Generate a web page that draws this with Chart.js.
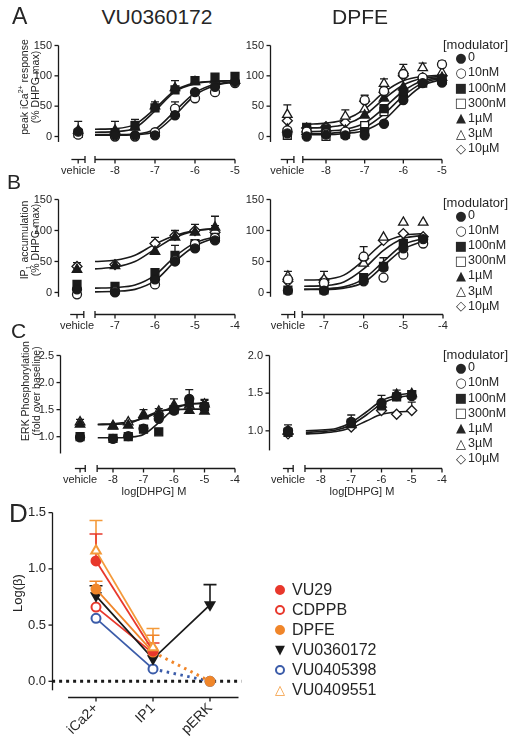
<!DOCTYPE html>
<html>
<head>
<meta charset="utf-8">
<script src="https://cdn.jsdelivr.net/npm/chart.js@4.4.0/dist/chart.umd.min.js"></script>
<style>
  body { margin: 0; background: #fff; }
  #fig { position: relative; width: 517px; height: 741px; overflow: hidden; background: #fff;
         font-family: "Liberation Sans", Arial, Helvetica, sans-serif; color: #262626; }
  #fig canvas { position: absolute; }
  .t { position: absolute; white-space: nowrap; line-height: 1; }
  .rot { transform: translate(-50%, -50%) rotate(-90deg); font-size: 10.5px; }
  .g { position: absolute; width: 14px; text-align: center; font-family: "DejaVu Sans", sans-serif; line-height: 1; }
  sup, sub { font-size: 7px; line-height: 0; }
</style>
</head>
<body>
<div id="fig">
  <canvas id="aL"></canvas><canvas id="aR"></canvas>
  <canvas id="bL"></canvas><canvas id="bR"></canvas>
  <canvas id="cL"></canvas><canvas id="cR"></canvas>
  <canvas id="d"></canvas>
</div>
<script>
// ---------- A: peak iCa2+ response (% DHPG max); first x = vehicle
const aL_dose  = [-8.92, -8, -7.5, -7, -6.5, -6, -5.5, -5];
const aL_0     = [8, 2, 2, 2, 35, 73, 82, 90];
const aL_10nM  = [3, 0, 0, 7, 46, 63, 73, 88];
const aL_100nM = [5, 5, 18, 47, 77, 92, 98, 99];
const aL_1uM   = [10, 10, 15, 50, 80, 90, 93, 92];
const aL_err100nM = [null, null, 28, null, 92, 97, null, 101];
const aL_err1uM   = [25, 25, null, 57, null, null, null, null];
const aL_errCirc  = [null, null, null, null, 57, null, null, null];
const aL_fitDose = [-8.5, -8, -7.5, -7, -6.5, -6, -5.5, -5];
const aL_fit1 = [12, 13, 20, 46, 76, 88, 91, 92];
const aL_fit2 = [7, 8, 14, 42, 74, 87, 91, 92];
const aL_fit3 = [3, 3, 4, 12, 42, 72, 86, 90];
const aL_fit4 = [2, 2, 3, 8, 35, 68, 84, 90];

const aR_dose  = [-9.0, -8.5, -8, -7.5, -7, -6.5, -6, -5.5, -5];
const aR_0     = [5, 0, 3, 2, 2, 21, 60, 88, 89];
const aR_10nM  = [10, 8, 5, 8, 60, 75, 103, 97, 119];
const aR_100nM = [7, 15, 12, 5, 8, 46, 71, 92, 95];
const aR_300nM = [2, 5, 0, 4, 18, 41, 65, 88, 93];
const aR_1uM   = [12, 8, 8, 10, 35, 63, 81, 95, 97];
const aR_3uM   = [36, 12, 14, 33, 45, 87, 108, 113, 105];
const aR_10uM  = [26, 14, 16, 23, 58, 73, 100, 97, 100];
const aR_err10nM = [null, null, null, null, 68, null, null, null, 124];
const aR_err3uM  = [52, null, null, 44, null, 95, 119, 121, null];
const aR_fitDose = [-8.5, -8, -7.5, -7, -6.5, -6, -5.5, -5];
const aR_fit1 = [20, 22, 28, 45, 73, 92, 99, 101];
const aR_fit2 = [14, 15, 20, 35, 62, 85, 96, 99];
const aR_fit3 = [8, 9, 12, 22, 47, 75, 92, 97];
const aR_fit4 = [5, 5, 8, 15, 37, 67, 88, 96];
const aR_fit5 = [3, 3, 5, 10, 27, 58, 84, 94];

// ---------- B: IP1 accumulation (% DHPG max)
const bL_dose  = [-7.95, -7, -6, -5.5, -5, -4.5];
const bL_0     = [5, 0, 21, 50, 71, 84];
const bL_10nM  = [-3, 2, 13, 52, 78, 88];
const bL_100nM = [13, 10, 32, 60, 79, 89];
const bL_1uM   = [37, 43, 66, 89, 97, 105];
const bL_10uM  = [42, 45, 79, 92, 100, 97];
const bL_err100nM = [null, null, null, 76, null, null];
const bL_err1uM   = [null, null, null, 100, null, 108];
const bL_err10uM  = [48, null, 89, null, 110, 123];
const bL_fitDose = [-7.5, -7, -6.5, -6, -5.5, -5, -4.5];
const bL_fit1 = [50, 52, 60, 78, 92, 100, 103];
const bL_fit2 = [38, 41, 50, 70, 89, 99, 103];
const bL_fit3 = [7, 8, 12, 28, 58, 80, 90];
const bL_fit4 = [1, 2, 5, 19, 50, 75, 88];

const bR_dose  = [-7.91, -7, -6, -5.5, -5, -4.5];
const bR_0     = [3, 3, 18, 40, 71, 86];
const bR_10nM  = [21, 15, 58, 24, 61, 79];
const bR_100nM = [4, 4, 24, 42, 79, 84];
const bR_3uM   = [26, 21, 47, 89, 113, 113];
const bR_10uM  = [18, 20, 55, 84, 95, 90];
const bR_err10nM  = [null, null, 74, null, null, null];
const bR_err100nM = [null, null, null, 56, null, null];
const bR_err3uM   = [34, 34, null, null, null, null];
const bR_fitDose = [-7.5, -7, -6.5, -6, -5.5, -5, -4.5];
const bR_fit1 = [20, 21, 28, 52, 80, 92, 95];
const bR_fit2 = [10, 11, 17, 38, 68, 87, 92];
const bR_fit3 = [5, 6, 9, 22, 50, 77, 87];
const bR_fit4 = [5, 5, 7, 16, 43, 70, 83];

// ---------- C: ERK phosphorylation (fold over baseline)
const cL_dose  = [-9.08, -8, -7.5, -7, -6.5, -6, -5.5, -5];
const cL_0     = [0.99, 0.96, 1.01, 1.15, 1.33, 1.48, 1.70, 1.57];
const cL_100nM = [1.0, 0.97, 1.0, 1.14, 1.09, 1.50, 1.62, 1.55];
const cL_1uM   = [1.23, 1.19, 1.21, 1.38, 1.43, 1.55, 1.48, 1.47];
const cL_3uM   = [1.27, 1.20, 1.27, 1.41, 1.47, 1.58, 1.58, 1.60];
const cL_err0     = [null, null, null, null, null, null, 1.87, 1.67];
const cL_err100nM = [null, null, null, null, 1.14, null, null, null];
const cL_err3uM   = [1.32, null, 1.29, 1.50, 1.52, 1.70, null, 1.69];
const cL_fitDose = [-8.5, -8, -7.5, -7, -6.5, -6, -5.5, -5];
const cL_fit1 = [1.23, 1.24, 1.27, 1.34, 1.45, 1.55, 1.60, 1.62];
const cL_fit2 = [1.22, 1.23, 1.25, 1.35, 1.47, 1.50, 1.51, 1.51];
const cL_fit3 = [0.98, 0.98, 0.99, 1.04, 1.26, 1.51, 1.60, 1.62];

const cR_dose  = [-9.09, -7, -6, -5.5, -5];
const cR_0     = [1.0, 1.12, 1.37, 1.46, 1.46];
const cR_100nM = [0.98, 1.10, 1.33, 1.45, 1.48];
const cR_1uM   = [0.99, 1.08, 1.35, 1.48, 1.49];
const cR_10uM  = [0.96, 1.05, 1.27, 1.22, 1.27];
const cR_err0   = [1.08, 1.21, 1.47, null, 1.53];
const cR_err1uM = [null, null, null, 1.54, null];
const cR_err10uM = [null, null, null, null, 1.38];
const cR_fitDose = [-8.5, -8, -7.5, -7, -6.5, -6, -5.5, -5];
const cR_fit1 = [1.00, 1.01, 1.03, 1.11, 1.25, 1.40, 1.47, 1.50];
const cR_fit2 = [0.98, 0.99, 1.01, 1.08, 1.21, 1.36, 1.44, 1.47];
const cR_fit3 = [0.96, 0.97, 0.99, 1.04, 1.13, 1.22, 1.25, 1.26];

// ---------- D: Log(beta) per assay
const dCats = ['iCa2+', 'IP1', 'pERK'];
const d_VU29      = [1.07, 0.27];
const d_CDPPB     = [0.66, 0.25];
const d_DPFE      = [0.82, 0.26, 0];
const d_VU0360172 = [0.76, 0.20, 0.68];
const d_VU0405398 = [0.56, 0.11, 0];
const d_VU0409551 = [1.16, 0.30];
const e_VU29      = [1.31, 0.34];
const e_DPFE      = [0.89, 0.41, null];
const e_VU0360172 = [0.85, null, 0.86];
const e_VU0409551 = [1.43, 0.47];
const dZero = [0, 0];
const dZeroX = [-0.77, 2.55];

const modLabels = ['0', '10nM', '100nM', '300nM', '1µM', '3µM', '10µM'];
const modGlyphs = ['●', '○', '■', '□', '▲', '△', '◇'];

Chart.defaults.font.family = '"Liberation Sans", Arial, Helvetica, sans-serif';
Chart.defaults.font.size = 11;
Chart.defaults.color = '#262626';
const INK = '#1a1a1a';

const MARK = {
  '0':     {style: 'circle', fill: INK, r: 4.5},
  '10nM':  {style: 'circle', fill: '#fff', r: 4.5},
  '100nM': {style: 'rect', fill: INK, r: 5.6},
  '300nM': {style: 'rect', fill: '#fff', r: 5.6},
  '1µM':   {style: 'triangle', fill: INK, r: 5.5},
  '3µM':   {style: 'triangle', fill: '#fff', r: 5.5},
  '10µM':  {style: 'rectRot', fill: '#fff', r: 5}
};

function pts(xs, ys) { return xs.map((x, i) => ({x: x, y: ys[i]})); }

function marks(key, xs, ys, err) {
  const m = MARK[key];
  return {label: key, data: pts(xs, ys), errHi: err || null, showLine: false, clip: false,
    pointStyle: m.style, pointRadius: m.r, pointBackgroundColor: m.fill,
    pointBorderColor: INK, pointBorderWidth: 1.3};
}
function fit(xs, ys) {
  return {data: pts(xs, ys), showLine: true, pointRadius: 0, borderColor: INK, borderWidth: 1.6,
    cubicInterpolationMode: 'monotone', fill: false, clip: false};
}

// Prism-style axes: detached y axis, x axis with a break after "vehicle"
const brokenAxes = {
  id: 'brokenAxes',
  afterDraw(chart, args, o) {
    const {ctx, chartArea: ca, scales: {x, y}} = chart;
    const L = (x1, y1, x2, y2) => { ctx.beginPath(); ctx.moveTo(x1, y1); ctx.lineTo(x2, y2); ctx.stroke(); };
    ctx.save();
    ctx.strokeStyle = INK; ctx.lineWidth = 1.3;
    const ax = Math.round(ca.left) + 0.5, ay = Math.round(ca.bottom) + 0.5;
    L(ax, y.getPixelForValue(o.yTop), ax, y.getPixelForValue(o.yEnd));
    o.yTicks.forEach(v => { const p = y.getPixelForValue(v); L(ax - 4, p, ax, p); });
    o.segs.forEach(s => {
      const pa = x.getPixelForValue(s[0]), pb = x.getPixelForValue(s[1]);
      L(pa, ay, pb, ay);
      if (s[2]) L(pa, ay - 3.5, pa, ay + 3.5);
      if (s[3]) L(pb, ay - 3.5, pb, ay + 3.5);
    });
    o.xTicks.forEach(v => { const p = x.getPixelForValue(v); L(p, ay, p, ay + 4); });
    ctx.restore();
  }
};

const errorBars = {
  id: 'errorBars',
  beforeDatasetsDraw(chart, args, o) {
    const ctx = chart.ctx, y = chart.scales.y;
    chart.data.datasets.forEach((ds, di) => {
      if (!ds.errHi) return;
      const meta = chart.getDatasetMeta(di);
      ctx.save();
      ctx.strokeStyle = ds.errColor || INK; ctx.lineWidth = o.width || 1.3;
      ds.errHi.forEach((e, i) => {
        if (e == null || !meta.data[i]) return;
        const p = meta.data[i], top = y.getPixelForValue(e);
        ctx.beginPath();
        ctx.moveTo(p.x, p.y); ctx.lineTo(p.x, top);
        ctx.moveTo(p.x - o.cap, top); ctx.lineTo(p.x + o.cap, top);
        ctx.stroke();
      });
      ctx.restore();
    });
  }
};

// value range that puts v1 at pixel p1 and v2 at pixel p2 across [pa, pb]
function span(a, pa, pb) {
  const k = (a[2] - a[0]) / (a[3] - a[1]);
  return [a[0] + (pa - a[1]) * k, a[0] + (pb - a[1]) * k];
}

function panel(id, box, xa, ya, ax, datasets) {
  const padL = 44, padT = 10, padR = 12, padB = ax.padB || 26;
  const cv = document.getElementById(id);
  const W = box.r - box.l + padL + padR, H = box.b - box.t + padT + padB;
  cv.width = W; cv.height = H;
  cv.style.width = W + 'px'; cv.style.height = H + 'px';
  cv.style.left = (box.l - padL) + 'px'; cv.style.top = (box.t - padT) + 'px';
  const xr = span(xa, box.l, box.r), yr = span(ya, box.b, box.t);
  return new Chart(cv, {
    type: 'line',
    data: {datasets: datasets},
    options: {
      responsive: false, animation: false, devicePixelRatio: 1,
      layout: {padding: {top: padT, right: padR, left: 0, bottom: 0}},
      plugins: {legend: {display: false}, tooltip: {enabled: false},
        brokenAxes: ax, errorBars: {cap: ax.cap || 4, width: ax.errW || 1.3}},
      scales: {
        x: {type: 'linear', min: xr[0], max: xr[1],
          afterFit: s => { s.height = padB; },
          afterBuildTicks: s => { s.ticks = ax.xLab.map(v => ({value: v})); },
          grid: {display: false, drawTicks: false}, border: {display: false},
          ticks: Object.assign({padding: ax.xPad || 5, maxRotation: 0, autoSkip: false,
            callback: v => ax.xText(v)}, ax.xTick || {})},
        y: {type: 'linear', min: yr[0], max: yr[1],
          afterFit: s => { s.width = padL; },
          afterBuildTicks: s => { s.ticks = ax.yTicks.map(v => ({value: v})); },
          grid: {display: false, drawTicks: false}, border: {display: false},
          ticks: Object.assign({padding: 6, callback: v => v.toFixed(ax.yDec || 0)}, ax.yTick || {})}
      }
    },
    plugins: [brokenAxes, errorBars]
  });
}

function doseAxis(veh, lo, hi, labels, yTicks, yTop, yEnd, dec) {
  return {
    segs: [[veh - 0.17, veh + 0.17, false, true], [lo, hi, true, false]],
    xTicks: [veh].concat(labels), xLab: [veh].concat(labels),
    xText: v => Math.abs(v - veh) < 1e-6 ? 'vehicle' : String(v),
    yTicks: yTicks, yTop: yTop, yEnd: yEnd, yDec: dec
  };
}

// ---- A
panel('aL', {l: 58, t: 38, r: 243, b: 159}, [-8, 115, -5, 235], [0, 136, 150, 43],
  doseAxis(aL_dose[0], -8.5, -5, [-8, -7, -6, -5], [0, 50, 100, 150], 150, -9, 0), [
  marks('0', aL_dose, aL_0),
  marks('10nM', aL_dose, aL_10nM, aL_errCirc),
  marks('100nM', aL_dose, aL_100nM, aL_err100nM),
  marks('1µM', aL_dose, aL_1uM, aL_err1uM),
  fit(aL_fitDose, aL_fit1), fit(aL_fitDose, aL_fit2), fit(aL_fitDose, aL_fit3), fit(aL_fitDose, aL_fit4)
]);
panel('aR', {l: 270, t: 38, r: 450, b: 159}, [-8, 326, -5, 442], [0, 136, 150, 43],
  doseAxis(aR_dose[0], -8.6, -5, [-8, -7, -6, -5], [0, 50, 100, 150], 150, -9, 0), [
  marks('0', aR_dose, aR_0),
  marks('10nM', aR_dose, aR_10nM, aR_err10nM),
  marks('100nM', aR_dose, aR_100nM),
  marks('300nM', aR_dose, aR_300nM),
  marks('1µM', aR_dose, aR_1uM),
  marks('3µM', aR_dose, aR_3uM, aR_err3uM),
  marks('10µM', aR_dose, aR_10uM),
  fit(aR_fitDose, aR_fit1), fit(aR_fitDose, aR_fit2), fit(aR_fitDose, aR_fit3),
  fit(aR_fitDose, aR_fit4), fit(aR_fitDose, aR_fit5)
]);

// ---- B
panel('bL', {l: 58, t: 192, r: 243, b: 314}, [-7, 115, -4, 235], [0, 292, 150, 197],
  doseAxis(bL_dose[0], -7.5, -4, [-7, -6, -5, -4], [0, 50, 100, 150], 150, -7, 0), [
  marks('0', bL_dose, bL_0),
  marks('10nM', bL_dose, bL_10nM),
  marks('100nM', bL_dose, bL_100nM, bL_err100nM),
  marks('1µM', bL_dose, bL_1uM, bL_err1uM),
  marks('10µM', bL_dose, bL_10uM, bL_err10uM),
  fit(bL_fitDose, bL_fit1), fit(bL_fitDose, bL_fit2), fit(bL_fitDose, bL_fit3), fit(bL_fitDose, bL_fit4)
]);
panel('bR', {l: 270, t: 192, r: 451, b: 314}, [-7, 324, -4, 443], [0, 292, 150, 197],
  doseAxis(bR_dose[0], -7.55, -4, [-7, -6, -5, -4], [0, 50, 100, 150], 150, -7, 0), [
  marks('0', bR_dose, bR_0),
  marks('10nM', bR_dose, bR_10nM, bR_err10nM),
  marks('100nM', bR_dose, bR_100nM, bR_err100nM),
  marks('3µM', bR_dose, bR_3uM, bR_err3uM),
  marks('10µM', bR_dose, bR_10uM),
  fit(bR_fitDose, bR_fit1), fit(bR_fitDose, bR_fit2), fit(bR_fitDose, bR_fit3), fit(bR_fitDose, bR_fit4)
]);

// ---- C
panel('cL', {l: 60, t: 348, r: 241, b: 468}, [-8, 113, -4, 235], [1, 436, 2.5, 353],
  doseAxis(cL_dose[0], -8.52, -4, [-8, -7, -6, -5, -4], [1.0, 1.5, 2.0, 2.5], 2.5, 0.69, 1), [
  marks('0', cL_dose, cL_0, cL_err0),
  marks('100nM', cL_dose, cL_100nM, cL_err100nM),
  marks('1µM', cL_dose, cL_1uM),
  marks('3µM', cL_dose, cL_3uM, cL_err3uM),
  fit(cL_fitDose, cL_fit1), fit(cL_fitDose, cL_fit2), fit(cL_fitDose, cL_fit3)
]);
panel('cR', {l: 269, t: 348, r: 448, b: 468}, [-8, 321, -4, 442], [1, 430, 2, 353],
  doseAxis(cR_dose[0], -8.53, -4, [-8, -7, -6, -5, -4], [1.0, 1.5, 2.0], 2.0, 0.74, 1), [
  marks('0', cR_dose, cR_0, cR_err0),
  marks('100nM', cR_dose, cR_100nM),
  marks('1µM', cR_dose, cR_1uM, cR_err1uM),
  marks('10µM', cR_dose, cR_10uM, cR_err10uM),
  fit(cR_fitDose, cR_fit1), fit(cR_fitDose, cR_fit2), fit(cR_fitDose, cR_fit3)
]);

// ---- D
const RED = '#e8382c', ORANGE = '#f0862a', ORANGE2 = '#f49a3a', BLUE = '#3b5ca9';
const dotAfterIP1 = ctx => ctx.p0DataIndex === 1 ? [2.5, 4.5] : undefined;
const dotWidth = ctx => ctx.p0DataIndex === 1 ? 3 : undefined;
function dser(label, ys, err, col, style, fillCol, r, extra) {
  return Object.assign({label: label, data: ys.map((v, i) => ({x: i, y: v})), errHi: err || null,
    errColor: col, borderColor: col, borderWidth: 1.8, pointStyle: style, pointRadius: r,
    pointBackgroundColor: fillCol, pointBorderColor: col, pointBorderWidth: 2, clip: false}, extra || {});
}
panel('d', {l: 52, t: 500, r: 242, b: 697}, [0, 96, 2, 210], [0, 681, 1.5, 509], {
  padB: 48, cap: 6.5, errW: 1.6,
  segs: [[-0.49, 2.5, false, false]], xTicks: [0, 1, 2], xLab: [0, 1, 2],
  xText: v => dCats[Math.round(v)] || '', xPad: 3,
  xTick: {minRotation: 45, maxRotation: 45, font: {size: 14}},
  yTicks: [0, 0.5, 1.0, 1.5], yTop: 1.5, yEnd: -0.08, yDec: 1, yTick: {font: {size: 13}}
}, [
  dser('VU0409551', d_VU0409551, e_VU0409551, ORANGE2, 'triangle', '#fff', 5.5),
  dser('VU29', d_VU29, e_VU29, RED, 'circle', RED, 4.5),
  dser('DPFE', d_DPFE, e_DPFE, ORANGE, 'circle', ORANGE, 4.5,
    {segment: {borderDash: dotAfterIP1, borderWidth: dotWidth}}),
  dser('VU0360172', d_VU0360172, e_VU0360172, INK, 'triangle', INK, 5, {pointRotation: 180}),
  dser('CDPPB', d_CDPPB, null, RED, 'circle', '#fff', 4.5),
  dser('VU0405398', d_VU0405398, null, BLUE, 'circle', '#fff', 4.5,
    {segment: {borderDash: dotAfterIP1, borderWidth: dotWidth}}),
  {label: 'zero', data: pts(dZeroX, dZero), borderColor: INK, borderWidth: 3, borderDash: [3, 4],
    pointRadius: 0, clip: false}
]);

// ---- text: panel letters, titles, axis titles, legends
const fig = document.getElementById('fig');
function txt(html, x, base, size, extra) {
  const d = document.createElement('div');
  d.className = 't'; d.innerHTML = html;
  d.style.left = x + 'px'; d.style.top = (base - 0.85 * size) + 'px'; d.style.fontSize = size + 'px';
  if (extra) Object.assign(d.style, extra);
  fig.appendChild(d); return d;
}
function ctxt(html, cx, base, size) {
  return txt(html, cx, base, size, {transform: 'translateX(-50%)'});
}
function vtxt(html, cx, cy) {
  const d = document.createElement('div');
  d.className = 't rot'; d.innerHTML = html;
  d.style.left = cx + 'px'; d.style.top = cy + 'px';
  fig.appendChild(d);
}
txt('A', 12, 25, 23); txt('B', 7, 189, 21); txt('C', 11, 338, 21); txt('D', 9, 522, 26);
ctxt('VU0360172', 157, 24, 21); ctxt('DPFE', 360, 24, 21);
vtxt('peak iCa<sup>2+</sup> response', 23.5, 87); vtxt('(% DHPG max)', 34.5, 87);
vtxt('IP<sub>1</sub> accumulation', 23.5, 240); vtxt('(% DHPG max)', 34.5, 240);
vtxt('ERK Phosphorylation', 25, 391); vtxt('(fold over baseline)', 36, 391);
vtxt('<span style="font-size:13px">Log(β)</span>', 17, 593);
ctxt('log[DHPG] M', 154, 495, 11); ctxt('log[DHPG] M', 362, 495, 11);

function modLegend(headY) {
  txt('[modulator]', 443, headY + 4.5, 13);
  modLabels.forEach((lab, i) => {
    const cy = headY + 12.5 + i * 15.1;
    const g = document.createElement('div');
    g.className = 'g'; g.textContent = modGlyphs[i];
    g.style.left = '454px'; g.style.top = (cy - 6.5) + 'px'; g.style.fontSize = '13px';
    fig.appendChild(g);
    txt(lab, 468, cy + 4.5, 12.5);
  });
}
modLegend(45); modLegend(202.7); modLegend(355);

const dLegend = [
  ['VU29', 'dot', RED], ['CDPPB', 'ring', RED], ['DPFE', 'dot', ORANGE],
  ['VU0360172', '▼', INK], ['VU0405398', 'ring', BLUE], ['VU0409551', '△', ORANGE2]
];
const dLegendY = [590, 610, 630, 649.5, 669.5, 689.5];
dLegend.forEach((it, i) => {
  const cy = dLegendY[i];
  const s = document.createElement('div');
  s.style.position = 'absolute';
  if (it[1] === 'dot' || it[1] === 'ring') {
    Object.assign(s.style, {left: '275px', top: (cy - 5) + 'px', width: '10px', height: '10px',
      borderRadius: '50%', boxSizing: 'border-box',
      background: it[1] === 'dot' ? it[2] : '#fff', border: '2.2px solid ' + it[2]});
  } else {
    s.className = 'g'; s.textContent = it[1];
    Object.assign(s.style, {left: '273px', top: (cy - 7) + 'px', fontSize: '13px', color: it[2]});
  }
  fig.appendChild(s);
  txt(it[0], 292, cy + 5.8, 16);
});
</script>
</body>
</html>
